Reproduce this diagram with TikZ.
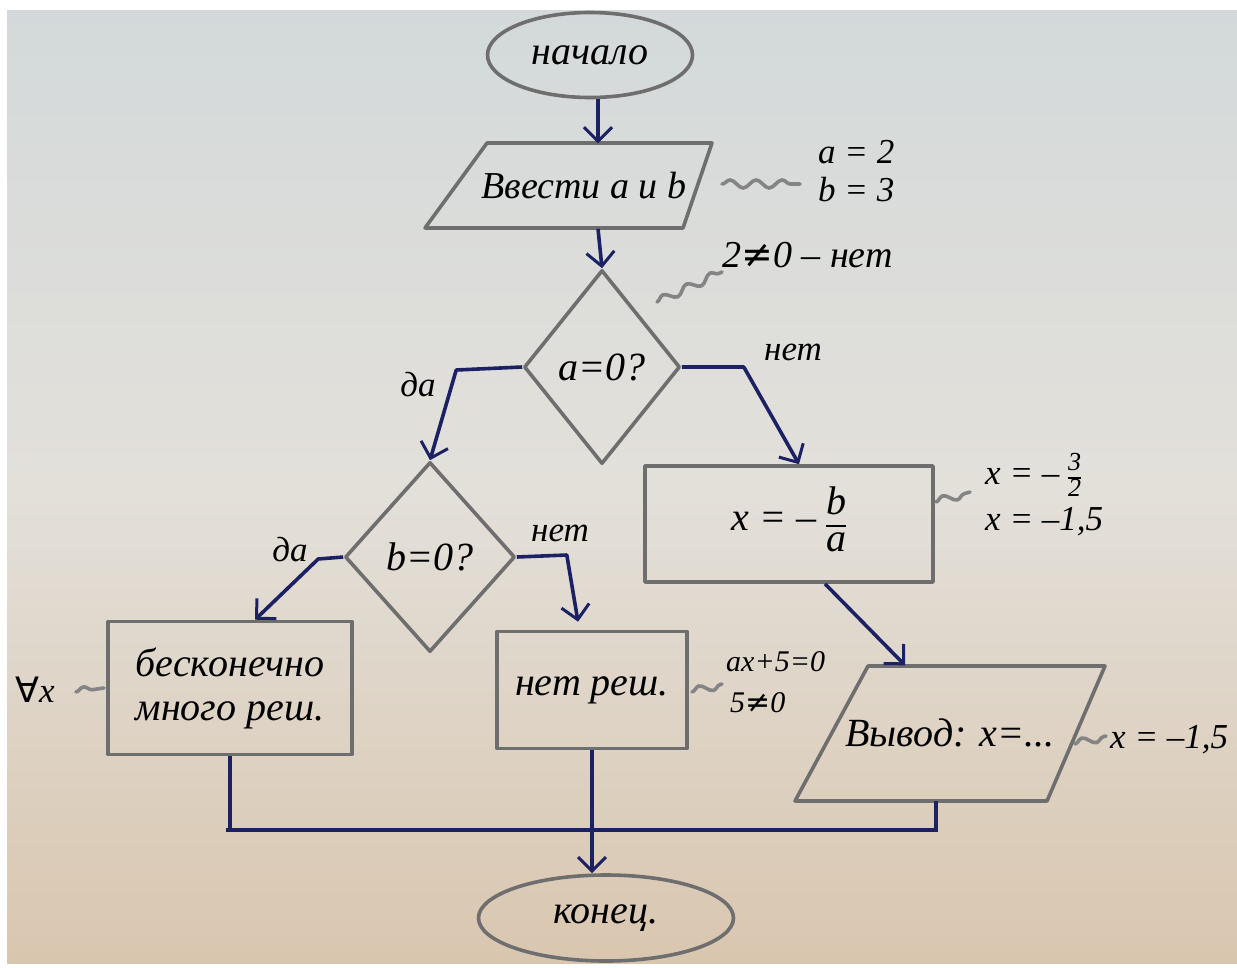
\documentclass[tikz,border=0pt]{standalone}
\usepackage{fontspec}
\setmainfont{Liberation Serif}
\newfontfamily\symfont{DejaVu Sans}
\usetikzlibrary{arrows.meta,shapes.geometric,calc,decorations.pathmorphing}

\definecolor{pencil}{HTML}{6E6E6E}
\definecolor{ink}{HTML}{1C2163}
\definecolor{paperTop}{HTML}{D3D9DA}
\definecolor{paperMid}{HTML}{E3E0DA}
\definecolor{paperBot}{HTML}{D9C6AF}

\tikzset{
  shapeline/.style={draw=pencil, line width=3.6pt, line join=round},
  ghost/.style={draw=none, inner sep=0pt},
  flow/.style={draw=ink, line width=3.6pt, line join=round,
    -{Straight Barb[length=14pt,width=28pt,line width=3pt]}},
  flowplain/.style={draw=ink, line width=3.6pt},
  txt/.style={font=\fontsize{40}{44}\selectfont\itshape, text=black, inner sep=0pt, align=center},
  note/.style={font=\fontsize{35}{38}\selectfont\itshape, text=black, inner sep=0pt},
  lbl/.style={font=\fontsize{35}{38}\selectfont\itshape, text=black, inner sep=0pt},
  squig/.style={draw=pencil!85, line width=3.6pt, line cap=round,
    decorate, decoration={snake, amplitude=4pt, segment length=26pt}},
}
\newcommand{\myfrac}[2]{\setlength{\arrayrulewidth}{2pt}\renewcommand{\arraystretch}{0.8}\begin{tabular}{@{}c@{}}#1\\\hline #2\end{tabular}}

\begin{document}
\begin{tikzpicture}[x=1pt,y=-1pt]
\useasboundingbox (0,0) rectangle (1237,967);
\fill[white] (0,0) rectangle (1237,967);
\shade[top color=paperTop, bottom color=paperBot, middle color=paperMid] (7,10) rectangle (1237,963);

% --- nodes ---
\node[shapeline, ellipse, minimum width=205, minimum height=85, txt] (start) at (590,55) {начало};
\node[ghost, minimum width=240, minimum height=85, txt, font=\fontsize{38}{42}\selectfont\itshape] (inp) at (584,186) {Ввести a и b};
\draw[shapeline] (487,143) -- (712,143) -- (683,228) -- (425,228) -- cycle;

\node[shapeline, diamond, minimum width=156, minimum height=194, txt] (d1) at (602,367) {a=0?};
\node[shapeline, diamond, minimum width=170, minimum height=190, txt] (d2) at (430,557) {b=0?};

\node[shapeline, rectangle, minimum width=288, minimum height=116, txt] (calc) at (789,524)
  {x = – \myfrac{b}{a}};
\node[shapeline, rectangle, minimum width=244, minimum height=133, txt] (inf) at (230,688)
  {бесконечно\\много реш.};
\node[shapeline, rectangle, minimum width=190, minimum height=117, txt] (nosol) at (592,690) {нет реш.};

\node[ghost, minimum width=250, minimum height=135, txt] (out) at (950,733) {Вывод: x=...};
\draw[shapeline] (868,666) -- (1105,666) -- (1047,801) -- (795,801) -- cycle;

\node[shapeline, ellipse, minimum width=255, minimum height=86, txt] (end) at (606,918) {конец.};

% --- connectors ---
\coordinate (inpTop) at ($(inp.north)+(14,0)$);
\coordinate (inpBot) at ($(inp.south)+(14,0)$);
\draw[flow] ($(start.south)+(8,0)$) -- (inpTop);
\draw[flow] (inpBot) -- (d1.north);
\draw[flow] (d1.east) -- ++(62,0) -- ($(calc.north)+(10,0)$);
\draw[flow] (d1.west) -- ++(-66,3) -- (d2.north);
\draw[flow] (d2.west) -- ++(-25,2) -- ($(inf.north)+(25,0)$);
\draw[flow] (d2.east) -- ++(50,-2) -- ($(nosol.north)+(-14,-8)$);
\draw[flow] ($(calc.south)+(36,0)$) -- ($(out.north)+(-45,0)$);

\coordinate (join) at (590,830);
\coordinate (outB) at ($(out.south)+(-14,0)$);
\draw[flowplain] (inf.south) -- (inf.south |- join);
\draw[flowplain] (outB) -- (outB |- join);
\draw[flowplain] ($(inf.south |- join)+(-4,0)$) -- ($(outB |- join)+(2,0)$);
\draw[flow] (nosol.south) -- (nosol.south |- end.north);

% --- branch labels ---
\node[lbl] (l1) at (418,385) {да};
\node[lbl] (l2) at (793,352) {нет};
\node[lbl] (l3) at (290,550) {да};
\node[lbl] (l4) at (560,533) {нет};

% --- side notes ---
\node[note, anchor=west] (n1) at (818,152) {a = 2};
\node[note, anchor=west] (n2) at (818,190) {b = 3};
\draw[squig] (722,184) -- (800,184);

\node[note, anchor=west, font=\fontsize{38}{42}\selectfont\itshape] (n3) at (722,255) {2{\symfont ≠}0 – нет};
\draw[squig] (657,302) -- (722,272);

\node[note, anchor=west] (n4) at (985,478) {x = – {\fontsize{26}{28}\selectfont\myfrac{3}{2}}};
\node[note, anchor=west] (n5) at (985,522) {x = –1,5};
\draw[squig] (936,502) -- (970,492);

\node[note, anchor=west] (n6) at (15,690) {{\symfont ∀}x};
\draw[squig] (76,692) -- (104,688);

\node[note, anchor=west, font=\fontsize{30}{34}\selectfont\itshape] (n7) at (726,662) {ax+5=0};
\node[note, anchor=west, font=\fontsize{30}{34}\selectfont\itshape] (n8) at (730,703) {5{\symfont ≠}0};
\draw[squig] (692,692) -- (722,684);

\node[note, anchor=west] (n9) at (1110,740) {x = –1,5};
\draw[squig] (1075,744) -- (1106,736);
\end{tikzpicture}
\end{document}
